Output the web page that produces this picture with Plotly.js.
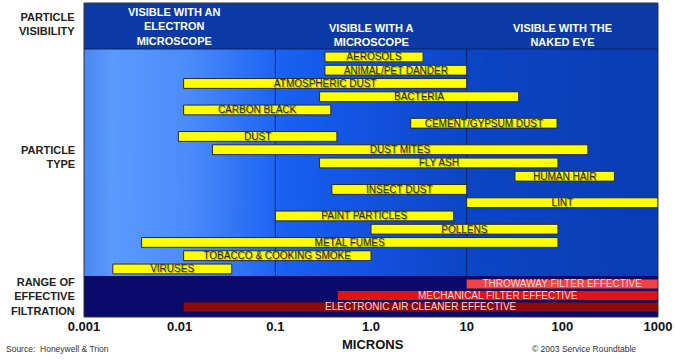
<!DOCTYPE html>
<html>
<head>
<meta charset="utf-8">
<script src="https://cdn.plot.ly/plotly-3.0.1.min.js"></script>
<style>html,body{margin:0;padding:0;background:#fff;}#chart{width:675px;height:363px;}</style>
</head>
<body>
<div id="chart"></div>
<script>
// ---- data (microns) ----
const particles = ['AEROSOLS', 'ANIMAL/PET DANDER', 'ATMOSPHERIC DUST', 'BACTERIA', 'CARBON BLACK',
  'CEMENT/GYPSUM DUST', 'DUST', 'DUST MITES', 'FLY ASH', 'HUMAN HAIR', 'INSECT DUST', 'LINT',
  'PAINT PARTICLES', 'POLLENS', 'METAL FUMES', 'TOBACCO & COOKING SMOKE', 'VIRUSES'];
const particleMin = [0.33, 0.33, 0.011, 0.29, 0.011, 2.6, 0.0097, 0.022, 0.29, 32, 0.39, 10, 0.1, 1.0, 0.004, 0.011, 0.002];
const particleMax = [3.5, 10, 10, 35, 0.38, 88, 0.44, 185, 90, 350, 10, 1000, 7.3, 90, 90, 1.0, 0.035];

const filters = ['THROWAWAY FILTER EFFECTIVE', 'MECHANICAL FILTER EFFECTIVE', 'ELECTRONIC AIR CLEANER EFFECTIVE'];
const filterMin = [10, 0.45, 0.011];
const filterMax = [1000, 1000, 1000];
const filterColors = ['#F04444', '#E01414', '#8E0A0A'];

const tickVals = [0.001, 0.01, 0.1, 1, 10, 100, 1000];
const tickText = ['0.001', '0.01', '0.1', '1.0', '10', '100', '1000'];

const visibilityBounds = [0.1, 10];
const headerLabels = ['VISIBLE WITH AN<br>ELECTRON<br>MICROSCOPE', 'VISIBLE WITH A<br>MICROSCOPE', 'VISIBLE WITH THE<br>NAKED EYE'];

// ---- layout geometry ----
const FILT_TOP = 0.1306, BLUE_TOP = 0.8535;
const FONT = 'Liberation Sans, Arial, sans-serif';

// gradient background for particle region
const cv = document.createElement('canvas');
cv.width = 600; cv.height = 8;
const ctx = cv.getContext('2d');
const g = ctx.createLinearGradient(0, 0, 600, 0);
g.addColorStop(0.0, '#4A88F0');
g.addColorStop(0.05, '#5A9BFF');
g.addColorStop(0.18, '#4C8CFA');
g.addColorStop(0.34, '#1A62F2');
g.addColorStop(0.45, '#1456E6');
g.addColorStop(0.66, '#0C46C6');
g.addColorStop(1.0, '#0A3CB2');
ctx.fillStyle = g; ctx.fillRect(0, 0, 600, 8);
const gradURL = cv.toDataURL('image/png');

const traces = [
  {
    type: 'bar', orientation: 'h',
    y: particles,
    base: particleMin,
    x: particleMax.map((v, i) => v - particleMin[i]),
    width: 0.74,
    marker: {color: '#FFFF00', line: {color: '#2a2a2a', width: 1}},
    text: particles,
    textposition: 'inside', insidetextanchor: 'middle', textangle: 0, constraintext: 'none',
    textfont: {family: FONT, size: 10, color: '#2b2b2b', shadow: '1px 1px 1px rgba(0,0,0,0.4)'},
    hoverinfo: 'skip', xaxis: 'x', yaxis: 'y'
  },
  {
    type: 'bar', orientation: 'h',
    y: filters,
    base: filterMin,
    x: filterMax.map((v, i) => v - filterMin[i]),
    width: 0.8,
    marker: {color: filterColors, line: {width: 0}},
    text: filters,
    textposition: 'inside', insidetextanchor: 'middle', textangle: 0, constraintext: 'none',
    textfont: {family: FONT, size: 10, color: '#FFD6D6'},
    hoverinfo: 'skip', xaxis: 'x', yaxis: 'y2'
  }
];

const shapes = [
  {type: 'rect', xref: 'paper', yref: 'paper', x0: 0, x1: 1, y0: BLUE_TOP, y1: 1, fillcolor: '#0B3AA6', line: {width: 0}, layer: 'below'},
  {type: 'rect', xref: 'paper', yref: 'paper', x0: 0, x1: 1, y0: 0, y1: FILT_TOP, fillcolor: '#0A0A6A', line: {width: 0}, layer: 'below'},
  {type: 'line', xref: 'paper', yref: 'paper', x0: 0, x1: 1, y0: BLUE_TOP, y1: BLUE_TOP, line: {color: '#0A2266', width: 1}, layer: 'below'}
];
visibilityBounds.forEach(v => shapes.push({
  type: 'line', xref: 'x', yref: 'paper', x0: v, x1: v, y0: FILT_TOP, y1: BLUE_TOP,
  line: {color: '#0A2466', width: 1}, layer: 'below'
}));
shapes.push({type: 'rect', xref: 'paper', yref: 'paper', x0: 0, x1: 1, y0: 0, y1: 1, line: {color: '#333', width: 1}, fillcolor: 'rgba(0,0,0,0)', layer: 'above'});

const hdrX = [0.1585, 0.5, 0.8328];
const hdrY = [0.9236, 0.898, 0.898];
const annotations = headerLabels.map((t, i) => ({
  text: t, xref: 'paper', yref: 'paper', x: hdrX[i], y: hdrY[i], showarrow: false,
  xanchor: 'center', yanchor: 'middle', align: 'center',
  font: {family: FONT, size: 11, color: '#FFFFFF', weight: 'bold'}
}));
const sideLabels = [['PARTICLE<br>VISIBILITY', 0.933], ['PARTICLE<br>TYPE', 0.5096], ['RANGE OF<br>EFFECTIVE<br>FILTRATION', 0.0637]];
sideLabels.forEach(([t, y]) => annotations.push({
  text: t, xref: 'paper', yref: 'paper', x: -0.012, y: y, showarrow: false,
  xanchor: 'right', yanchor: 'middle', align: 'right',
  font: {family: FONT, size: 11, color: '#222', weight: 'bold'}
}));
annotations.push({text: 'MICRONS', xref: 'paper', yref: 'paper', x: 0.5035, y: -0.089, showarrow: false,
  xanchor: 'center', yanchor: 'middle', font: {family: FONT, size: 13, color: '#111', weight: 'bold'}});
annotations.push({text: 'Source:  Honeywell &amp; Trion', xref: 'paper', yref: 'paper', x: -0.139, y: -0.102, showarrow: false,
  xanchor: 'left', yanchor: 'middle', font: {family: FONT, size: 8.5, color: '#333'}});
annotations.push({text: '© 2003 Service Roundtable', xref: 'paper', yref: 'paper', x: 0.777, y: -0.102, showarrow: false,
  xanchor: 'left', yanchor: 'middle', font: {family: FONT, size: 8.5, color: '#333'}});

const layout = {
  width: 675, height: 363,
  margin: {l: 84, r: 17, t: 3, b: 46, pad: 0},
  paper_bgcolor: '#FFFFFF', plot_bgcolor: 'rgba(0,0,0,0)',
  showlegend: false, barmode: 'overlay',
  xaxis: {type: 'log', range: [-3, 3], tickvals: tickVals, ticktext: tickText, anchor: 'y2',
    showgrid: false, zeroline: false, ticks: '', showline: false,
    tickfont: {family: FONT, size: 13, color: '#111', weight: 'bold'}, fixedrange: true},
  yaxis: {domain: [FILT_TOP, BLUE_TOP], type: 'category', categoryarray: particles, anchor: 'x',
    range: [16.53, -0.6], showticklabels: false, showgrid: false, zeroline: false, ticks: '', fixedrange: true},
  yaxis2: {domain: [0, FILT_TOP], type: 'category', categoryarray: filters, anchor: 'x',
    range: [2.87, -0.696], showticklabels: false, showgrid: false, zeroline: false, ticks: '', fixedrange: true},
  images: [{source: gradURL, xref: 'paper', yref: 'paper', x: 0, y: BLUE_TOP, sizex: 1, sizey: BLUE_TOP - FILT_TOP,
    sizing: 'stretch', xanchor: 'left', yanchor: 'top', layer: 'below'}],
  shapes: shapes,
  annotations: annotations
};

Plotly.newPlot('chart', traces, layout, {staticPlot: true, displayModeBar: false});
</script>
</body>
</html>
